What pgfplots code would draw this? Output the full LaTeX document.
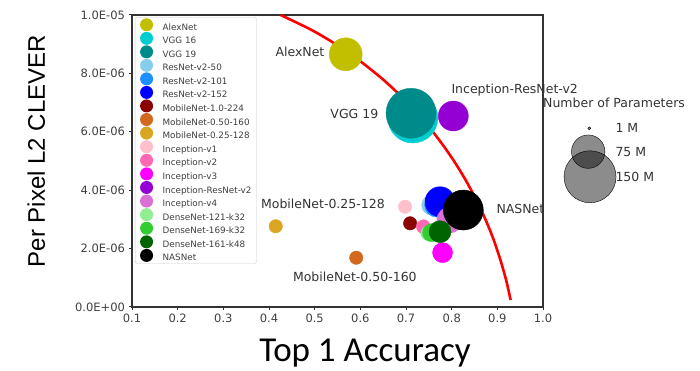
\documentclass[border=0pt]{standalone}
\usepackage{pgfplots}
\pgfplotsset{compat=1.18}
\usepackage{fontspec}
\setmainfont{DejaVu Sans}
\newfontfamily\arialf{Liberation Sans}
\newfontfamily\calibrif{Carlito}
\definecolor{cAlex}{HTML}{C2BF00}
\definecolor{cVGGs}{HTML}{00CED1}
\definecolor{cVGGn}{HTML}{008B8B}
\definecolor{cRfifty}{HTML}{87CEEB}
\definecolor{cRhund}{HTML}{1E90FF}
\definecolor{cRonefive}{HTML}{0000FF}
\definecolor{cMone}{HTML}{8B0000}
\definecolor{cMhalf}{HTML}{D2691E}
\definecolor{cMquarter}{HTML}{DAA520}
\definecolor{cIone}{HTML}{FFC0CB}
\definecolor{cItwo}{HTML}{FF69B4}
\definecolor{cIthree}{HTML}{FF00FF}
\definecolor{cIRes}{HTML}{9400D3}
\definecolor{cIfour}{HTML}{DA70D6}
\definecolor{cDone}{HTML}{90EE90}
\definecolor{cDsix}{HTML}{32CD32}
\definecolor{cDfour}{HTML}{006400}
\pgfplotsset{
  bub/.style={only marks, mark=*, mark options={draw=none},
    legend image code/.code={\fill[##1, draw=none] (0pt,3pt) circle (6.5pt);}},
}
\begin{document}
\begin{tikzpicture}
\path[use as bounding box] (0pt,0pt) rectangle (700pt,371pt);
\begin{axis}[
  at={(132pt,64pt)}, anchor=south west,
  scale only axis, width=411pt, height=292pt,
  xmin=0.1, xmax=1.0, ymin=0, ymax=1e-5,
  xtick={0.1,0.2,0.3,0.4,0.5,0.6,0.7,0.8,0.9,1.0},
  xticklabels={0.1,0.2,0.3,0.4,0.5,0.6,0.7,0.8,0.9,1.0},
  ytick={0,2e-6,4e-6,6e-6,8e-6,1e-5},
  yticklabels={0.0E+00,2.0E-06,4.0E-06,6.0E-06,8.0E-06,1.0E-05},
  scaled x ticks=false, scaled y ticks=false,
  tick align=outside, tick pos=left, major tick length=3.5pt,
  axis line style={black!80, line width=1.1pt},
  tick style={black!80, line width=1pt},
  ticklabel style={font=\fontsize{11.5}{12}\selectfont, text=black!75},
  clip=false,
  xlabel={\calibrif\fontsize{35}{40}\selectfont Top 1 Accuracy},
  xlabel style={at={(axis description cs:0.567,-0.186)}, anchor=base, inner sep=0pt},
  ylabel={\arialf\fontsize{24}{28}\selectfont Per Pixel L2 CLEVER},
  ylabel style={at={(axis description cs:-0.233,0.534)}, anchor=center},
  legend cell align=left,
  legend style={at={(0.007,0.993)}, anchor=north west, draw=black!20,
    rounded corners=2pt, fill=white,
    font=\fontsize{8.8}{9}\selectfont, text=black!75,
    inner xsep=5pt, inner ysep=1pt, nodes={inner sep=0pt},
    row sep=0pt, column sep=9.5pt},
]
\addplot[bub, color=cAlex, mark size=16.5pt] coordinates {(0.568,8.654e-6)};
\addplot[bub, color=cVGGs, mark size=25pt] coordinates {(0.715,6.473e-6)};
\addplot[bub, color=cVGGn, mark size=25pt] coordinates {(0.711,6.634e-6)};
\addplot[bub, color=cRfifty, mark size=10pt] coordinates {(0.756,3.49e-6)};
\addplot[bub, color=cRhund, mark size=12pt] coordinates {(0.767,3.49e-6)};
\addplot[bub, color=cRonefive, mark size=15pt] coordinates {(0.7745,3.606e-6)};
\addplot[bub, color=cMone, mark size=6.7pt] coordinates {(0.709,2.866e-6)};
\addplot[bub, color=cMhalf, mark size=6.7pt] coordinates {(0.591,1.688e-6)};
\addplot[bub, color=cMquarter, mark size=6.7pt] coordinates {(0.4147,2.764e-6)};
\addplot[bub, color=cIone, mark size=6.7pt] coordinates {(0.698,3.435e-6)};
\addplot[bub, color=cItwo, mark size=7pt] coordinates {(0.738,2.75e-6)};
\addplot[bub, color=cIthree, mark size=10pt] coordinates {(0.780,1.86e-6)};
\addplot[bub, color=cIRes, mark size=15pt] coordinates {(0.8036,6.541e-6)};
\addplot[bub, color=cIfour, mark size=13pt] coordinates {(0.796,2.98e-6)};
\addplot[bub, color=cDone, mark size=7pt] coordinates {(0.7475,2.524e-6)};
\addplot[bub, color=cDsix, mark size=9pt] coordinates {(0.756,2.545e-6)};
\addplot[bub, color=cDfour, mark size=11pt] coordinates {(0.7745,2.579e-6)};
\addplot[bub, color=black, mark size=20pt] coordinates {(0.8255,3.32e-6)};
\legend{AlexNet,VGG 16,VGG 19,ResNet-v2-50,ResNet-v2-101,ResNet-v2-152,MobileNet-1.0-224,MobileNet-0.50-160,MobileNet-0.25-128,Inception-v1,Inception-v2,Inception-v3,Inception-ResNet-v2,Inception-v4,DenseNet-121-k32,DenseNet-169-k32,DenseNet-161-k48,NASNet}
% frontier curve
\addplot[red, line width=2.6pt, smooth, forget plot] coordinates {
 (0.4254,1.0e-5) (0.4933,9.486e-6) (0.5489,8.973e-6) (0.5964,8.459e-6)
 (0.6510,7.774e-6) (0.6974,7.089e-6) (0.7377,6.404e-6) (0.7727,5.719e-6)
 (0.8036,5.034e-6) (0.8305,4.349e-6) (0.8540,3.664e-6) (0.8745,2.979e-6)
 (0.8921,2.295e-6) (0.9067,1.610e-6) (0.9192,0.925e-6) (0.9291,0.240e-6)};
% size legend
\addplot[only marks, mark=*, forget plot, mark size=1.5pt, mark options={draw=none, fill=black, fill opacity=0.45}] coordinates {(1.1014,6.12e-6)};
\addplot[only marks, mark=*, forget plot, mark size=16.7pt, mark options={draw=none, fill=black, fill opacity=0.45}] coordinates {(1.099,5.32e-6)};
\addplot[only marks, mark=*, forget plot, mark size=26pt, mark options={draw=none, fill=black, fill opacity=0.45}] coordinates {(1.103,4.46e-6)};
\begin{scope}[every node/.style={font=\fontsize{12.5}{13}\selectfont, text=black!80}]
\node[anchor=east] at (axis cs:0.529,8.73e-6) {AlexNet};
\node[anchor=east] at (axis cs:0.647,6.61e-6) {VGG 19};
\node[anchor=west] at (axis cs:0.792,7.43e-6) {Inception-ResNet-v2};
\node[anchor=west] at (axis cs:0.8905,3.36e-6) {NASNet};
\node[anchor=center] at (axis cs:0.518,3.53e-6) {MobileNet-0.25-128};
\node[anchor=center] at (axis cs:0.588,1.03e-6) {MobileNet-0.50-160};
\node[anchor=west, inner sep=0pt] at (axis cs:1.0,7.0e-6) {Number of Parameters};
\node[anchor=west] at (axis cs:1.151,6.12e-6) {1 M};
\node[anchor=west] at (axis cs:1.151,5.32e-6) {75 M};
\node[anchor=west] at (axis cs:1.151,4.46e-6) {150 M};
\end{scope}
\end{axis}
\end{tikzpicture}
\end{document}
